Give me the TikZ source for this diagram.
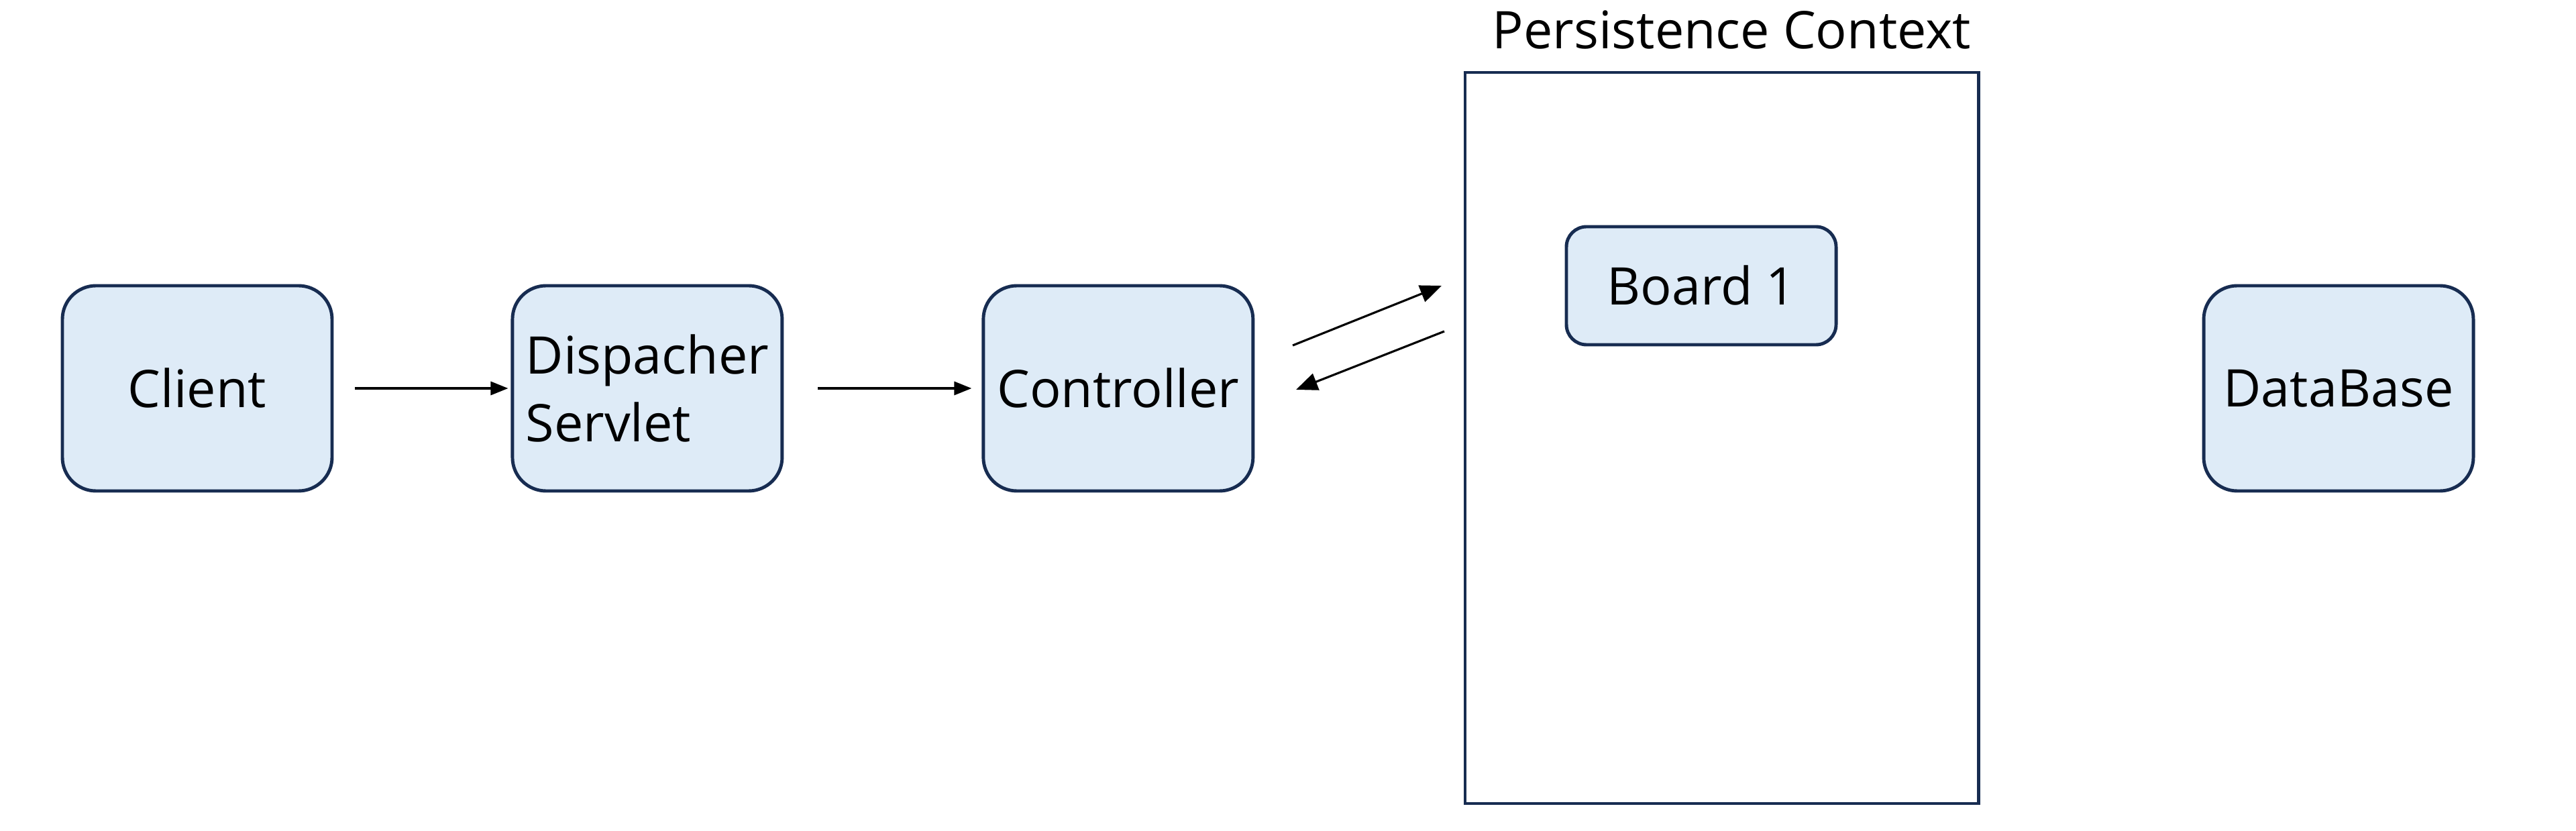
\documentclass[tikz,border=0pt]{standalone}
\usepackage{fontspec}
\setmainfont{Open Sans}
\usepackage{xcolor}
\usepackage{tikz}
\usetikzlibrary{arrows.meta,positioning,calc}
\definecolor{ln}{HTML}{172C51}
\definecolor{bx}{HTML}{DEEBF7}
\tikzset{
  block/.style={draw=ln, fill=bx, line width=1.4pt, rounded corners=0.5cm,
    minimum width=4.02cm, minimum height=3.06cm, inner sep=2pt,
    font=\fontsize{22}{29}\selectfont, align=left},
  flow/.style={-{Triangle[length=0.26cm,width=0.2cm]}, line width=0.9pt, black},
  link/.style={-{Triangle[length=0.32cm,width=0.26cm]}, line width=0.9pt, black}
}

\begin{document}
\begin{tikzpicture}
  \useasboundingbox (0,0) rectangle (38.4,12.38);
  \node[block] (client) at (2.94,6.59) {Client};
  \node[block, right=2.64cm of client] (disp) {Dispacher\\Servlet};
  \node[block, right=2.95cm of disp] (ctrl) {Controller};
  \node[block] (db) at (34.86,6.59) {DataBase};
  % persistence context
  \node[draw=ln, line width=1.4pt, minimum width=7.65cm, minimum height=10.9cm,
    inner sep=0pt] (pc) at (25.665,5.85) {};
  \node[font=\fontsize{22}{26}\selectfont, anchor=south] (pctitle)
    at ($(pc.north)+(0.15,0.2)$) {Persistence Context};
  \node[block, minimum height=1.76cm, rounded corners=0.3cm] (board) at (25.36,8.12) {Board 1};
  % arrows
  \draw[flow, shorten <=0.32cm, shorten >=0.04cm] (client.east) -- (disp.west);
  \draw[flow, shorten <=0.51cm, shorten >=0.15cm] (disp.east) -- (ctrl.west);
  \coordinate (a1) at (19.27,7.23);
  \coordinate (b1) at (21.49,8.12);
  \coordinate (a2) at (21.53,7.44);
  \coordinate (b2) at (19.32,6.57);
  \draw[link] (a1) -- (b1);
  \draw[link] (a2) -- (b2);
\end{tikzpicture}
\end{document}
